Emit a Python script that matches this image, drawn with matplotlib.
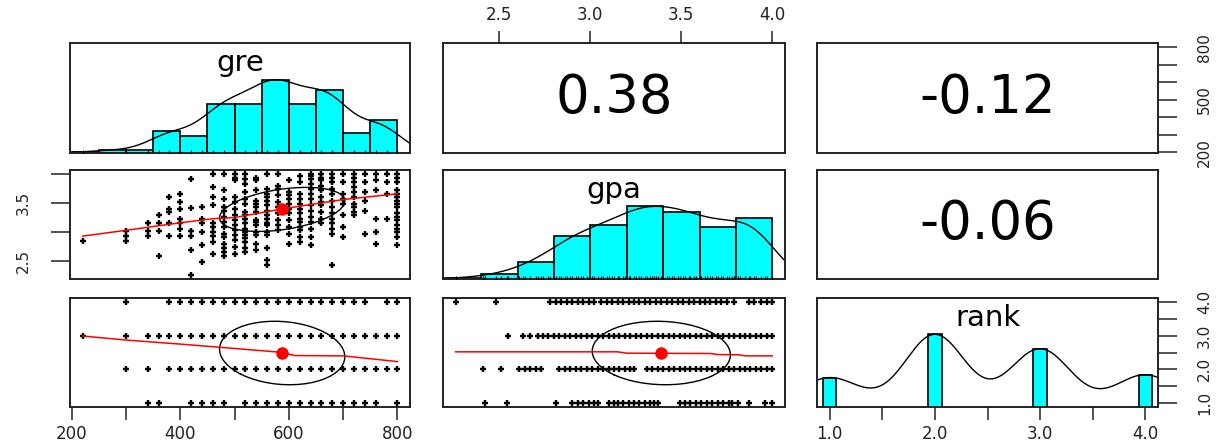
import numpy as np
import matplotlib
matplotlib.use('Agg')
import matplotlib.pyplot as plt

plt.rcParams['font.family'] = ['DejaVu Sans']

# histogram data
gre_breaks = [200, 250, 300, 350, 400, 450, 500, 550, 600, 650, 700, 750, 800]
gre_counts = [1, 3, 3, 23, 18, 51, 51, 77, 51, 66, 21, 35]
gpa_breaks = [2.2, 2.4, 2.6, 2.8, 3.0, 3.2, 3.4, 3.6, 3.8, 4.0]
gpa_counts = [1, 5, 18, 46, 58, 78, 72, 56, 66]
rank_levels = [1, 2, 3, 4]
rank_counts = [61, 151, 121, 67]

# summary statistics
gre_mean, gre_sd, gre_range = 587.7, 115.5, (220, 800)
gpa_mean, gpa_sd, gpa_range = 3.39, 0.38, (2.26, 4.0)
rank_mean, rank_sd, rank_range = 2.485, 0.944, (1, 4)
r_gre_gpa, r_gre_rank, r_gpa_rank = 0.38, -0.12, -0.06
cor_labels = ['0.38', '-0.12', '-0.06']

# smoothed (loess) lines
smooth1_x = [220, 300, 400, 460, 500, 588, 700, 800]
smooth1_y = [2.93, 3.03, 3.16, 3.23, 3.25, 3.40, 3.56, 3.66]
smooth2_x = [220, 300, 400, 500, 590, 610, 700, 800]
smooth2_y = [2.99, 2.87, 2.75, 2.62, 2.50, 2.41, 2.40, 2.23]
smooth3_x = [2.26, 3.15, 3.20, 3.66, 3.70, 3.82, 3.85, 4.00]
smooth3_y = [2.52, 2.52, 2.48, 2.47, 2.44, 2.43, 2.40, 2.40]

# gre vs gpa scatter points
gre_gpa_pts = [
    (220, 2.84),
    (300, 3.01), (300, 2.93), (300, 2.84),
    (340, 3.15), (340, 3.01), (340, 2.93),
    (360, 3.29), (360, 3.15), (360, 3.01), (360, 2.58),
    (380, 3.60), (380, 3.40), (380, 3.34), (380, 3.15), (380, 2.93),
    (400, 3.66), (400, 3.52), (400, 3.40), (400, 3.23), (400, 3.15), (400, 3.06), (400, 2.93),
    (420, 3.91), (420, 3.41), (420, 3.01), (420, 2.93), (420, 2.69), (420, 2.26),
    (440, 3.43), (440, 3.23), (440, 3.15), (440, 3.00), (440, 2.77), (440, 2.49),
    (460, 4.00), (460, 3.77), (460, 3.60), (460, 3.46), (460, 3.15), (460, 3.09), (460, 3.00),
    (460, 2.93), (460, 2.83), (460, 2.63),
    (480, 4.00), (480, 3.72), (480, 3.57), (480, 3.43), (480, 3.37), (480, 3.26), (480, 3.17),
    (480, 3.09), (480, 2.97), (480, 2.92), (480, 2.80), (480, 2.72), (480, 2.66), (480, 2.58),
    (500, 4.00), (500, 3.94), (500, 3.89), (500, 3.60), (500, 3.52), (500, 3.40), (500, 3.29),
    (500, 3.20), (500, 3.12), (500, 3.03), (500, 2.95), (500, 2.86), (500, 2.75), (500, 2.63),
    (520, 4.00), (520, 3.91), (520, 3.83), (520, 3.69), (520, 3.57), (520, 3.49), (520, 3.34),
    (520, 3.29), (520, 3.23), (520, 3.15), (520, 3.06), (520, 3.00), (520, 2.95), (520, 2.89),
    (520, 2.83), (520, 2.72), (520, 2.66),
    (540, 3.94), (540, 3.89), (540, 3.72), (540, 3.54), (540, 3.49), (540, 3.43), (540, 3.34),
    (540, 3.20), (540, 3.17), (540, 3.12), (540, 3.00), (540, 2.95), (540, 2.80), (540, 2.69),
    (560, 4.00), (560, 3.74), (560, 3.66), (560, 3.60), (560, 3.54), (560, 3.46), (560, 3.37),
    (560, 3.29), (560, 3.23), (560, 3.15), (560, 3.12), (560, 3.00), (560, 2.95), (560, 2.72),
    (560, 2.52), (560, 2.43),
    (580, 4.00), (580, 3.80), (580, 3.74), (580, 3.63), (580, 3.52), (580, 3.43), (580, 3.32),
    (580, 3.20), (580, 3.12), (580, 3.03),
    (600, 3.89), (600, 3.69), (600, 3.63), (600, 3.57), (600, 3.49), (600, 3.40), (600, 3.32),
    (600, 3.20), (600, 3.09), (600, 2.97), (600, 2.80),
    (620, 3.97), (620, 3.86), (620, 3.66), (620, 3.57), (620, 3.49), (620, 3.40), (620, 3.32),
    (620, 3.23), (620, 3.17), (620, 3.09), (620, 3.03), (620, 2.92), (620, 2.83),
    (640, 4.00), (640, 3.97), (640, 3.91), (640, 3.83), (640, 3.74), (640, 3.66), (640, 3.57),
    (640, 3.46), (640, 3.37), (640, 3.26), (640, 3.17), (640, 3.06), (640, 2.92), (640, 2.77),
    (660, 4.00), (660, 3.94), (660, 3.89), (660, 3.80), (660, 3.72), (660, 3.60), (660, 3.52),
    (660, 3.46), (660, 3.34), (660, 3.23), (660, 3.15),
    (680, 4.00), (680, 3.94), (680, 3.86), (680, 3.74), (680, 3.66), (680, 3.54), (680, 3.43),
    (680, 3.32), (680, 3.23), (680, 3.15), (680, 3.06), (680, 2.97), (680, 2.43),
    (700, 4.00), (700, 3.86), (700, 3.66), (700, 3.57), (700, 3.49), (700, 3.29), (700, 3.09),
    (700, 2.92),
    (720, 4.00), (720, 3.94), (720, 3.86), (720, 3.77), (720, 3.69), (720, 3.60), (720, 3.49),
    (720, 3.43), (720, 3.34), (720, 3.29),
    (740, 4.00), (740, 3.86), (740, 3.69), (740, 3.54), (740, 3.37), (740, 2.97),
    (760, 4.00), (760, 3.89), (760, 3.72), (760, 3.23), (760, 3.00), (760, 2.80),
    (780, 4.00), (780, 3.86), (780, 3.66), (780, 3.23),
    (800, 4.00), (800, 3.94), (800, 3.86), (800, 3.72), (800, 3.66), (800, 3.60), (800, 3.54),
    (800, 3.49), (800, 3.43), (800, 3.32), (800, 3.26), (800, 3.20), (800, 3.12), (800, 3.06),
    (800, 3.00), (800, 2.92), (800, 2.77),
]

# gre values seen in each rank row
gre_rank1 = [340, 360, 420, 440, 460, 480, 520, 540, 560, 580, 600, 620, 640, 660, 680,
             700, 720, 740, 760, 800]
gre_rank2 = [300, 340, 380, 400, 420, 440, 460, 480, 500, 520, 540, 560, 580, 600, 620,
             640, 660, 680, 700, 720, 740, 760, 780, 800]
gre_rank3 = [220, 300, 340, 360, 380, 400, 420, 440, 460, 480, 500, 520, 540, 560, 580,
             600, 620, 640, 660, 680, 700, 720, 740, 760, 780, 800]
gre_rank4 = [300, 380, 400, 420, 440, 460, 480, 500, 520, 540, 560, 580, 600, 620, 640,
             660, 680, 700, 720, 740, 780, 800]

# gpa values seen in each rank row
gpa_rank1 = [2.42, 2.54, 2.81, 2.90, 2.93, 2.96, 2.99, 3.02, 3.04, 3.10, 3.13, 3.15, 3.18,
             3.21, 3.24, 3.27, 3.30, 3.33, 3.35, 3.37, 3.49, 3.52, 3.55, 3.58, 3.61, 3.64,
             3.67, 3.70, 3.73, 3.76, 3.78, 3.81, 3.87, 3.96, 4.00]
gpa_rank2 = [2.41, 2.51, 2.61, 2.64, 2.67, 2.70, 2.73, 2.83, 2.86, 2.89, 2.92, 2.95, 2.98,
             3.01, 3.04, 3.07, 3.10, 3.13, 3.16, 3.19, 3.22, 3.24, 3.31, 3.34, 3.37, 3.40,
             3.43, 3.46, 3.49, 3.52, 3.55, 3.58, 3.61, 3.64, 3.67, 3.70, 3.73, 3.76, 3.79,
             3.82, 3.85, 3.88, 3.91, 3.94, 3.97, 4.00]
gpa_rank3 = [2.55, 2.63, 2.67, 2.71, 2.74, 2.77, 2.80, 2.83, 2.86, 2.89, 2.92, 2.95, 2.98,
             3.01, 3.04, 3.07, 3.10, 3.13, 3.16, 3.19, 3.22, 3.25, 3.28, 3.31, 3.34, 3.37,
             3.40, 3.43, 3.46, 3.49, 3.52, 3.55, 3.58, 3.61, 3.64, 3.67, 3.70, 3.73, 3.76,
             3.79, 3.82, 3.85, 3.88, 3.91, 3.94, 3.97, 4.00]
gpa_rank4 = [2.26, 2.48, 2.78, 2.81, 2.84, 2.87, 2.90, 2.93, 2.96, 2.99, 3.02, 3.06, 3.09,
             3.12, 3.15, 3.18, 3.21, 3.24, 3.27, 3.30, 3.33, 3.36, 3.39, 3.42, 3.45, 3.48,
             3.51, 3.54, 3.57, 3.60, 3.63, 3.66, 3.69, 3.72, 3.75, 3.79, 3.87, 3.90, 3.94,
             3.97, 4.00]


def ext(rng):
    d = (rng[1] - rng[0]) * 0.04
    return (rng[0] - d, rng[1] + d)


def ellipse(ax, xm, ym, xs, ys, r, n=51):
    a = np.linspace(0, 2 * np.pi, n + 1)
    th = np.sign(r) / np.sqrt(2)
    s1, s2 = np.sqrt(1 + r), np.sqrt(1 - r)
    ex = np.cos(a) * s1 * th - np.sin(a) * s2 * th
    ey = np.cos(a) * s1 * th + np.sin(a) * s2 * th
    ax.plot(ex * xs + xm, ey * ys + ym, color='black', lw=1.0)


def kde_line(ax, centers, counts, bw, lims):
    grid = np.linspace(lims[0], lims[1], 400)
    c = np.asarray(centers, float)[:, None]
    w = np.asarray(counts, float)[:, None]
    d = (w * np.exp(-0.5 * ((grid - c) / bw) ** 2)).sum(axis=0)
    ax.plot(grid, d / d.max(), color='black', lw=1.0)


def hist_panel(ax, lefts, widths, counts, centers, bw, lims, name, rug):
    h = np.asarray(counts, float) / max(counts)
    ax.bar(lefts, h, width=widths, align='edge', color='#00FFFF',
           edgecolor='black', linewidth=1.2, zorder=2)
    kde_line(ax, centers, counts, bw, lims)
    ax.plot(rug, np.zeros(len(rug)), '|', color='black', ms=5, mew=0.8, zorder=3)
    ax.set_ylim(0, 1.5)
    ax.text(0.5, 0.82, name, transform=ax.transAxes, ha='center', va='center',
            fontsize=21)


def scatter_panel(ax, x, y, sx, sy, mx, my, xs, ys, r):
    ax.plot(x, y, '+', color='black', ms=5, mew=1.7, zorder=2)
    ax.plot(sx, sy, color='red', lw=1.1, zorder=3)
    ellipse(ax, mx, my, xs, ys, r)
    ax.plot([mx], [my], 'o', color='red', ms=8, zorder=4)


W, H = 1222, 443
fig = plt.figure(figsize=(W / 100, H / 100), dpi=100)
cols = [(70, 410), (443, 785), (817, 1158)]
rows = [(43, 153), (170, 279), (298, 407)]
axs = [[None] * 3 for _ in range(3)]
for i, (t, b) in enumerate(rows):
    for j, (l, rgt) in enumerate(cols):
        ax = fig.add_axes([l / W, 1 - b / H, (rgt - l) / W, (b - t) / H])
        for s in ax.spines.values():
            s.set_linewidth(1.4)
            s.set_color('#222222')
        ax.set_xticks([])
        ax.set_yticks([])
        axs[i][j] = ax

lim_gre, lim_gpa, lim_rank = ext(gre_range), ext(gpa_range), ext(rank_range)
lims = [lim_gre, lim_gpa, lim_rank]

# diagonal
gre_w = np.diff(gre_breaks)
gre_c = np.array(gre_breaks[:-1]) + gre_w / 2
gre_rug = sorted(set(p[0] for p in gre_gpa_pts))
hist_panel(axs[0][0], gre_breaks[:-1], gre_w, gre_counts, gre_c, 37.4,
           (gre_range[0] - 120, gre_range[1] + 120), 'gre', gre_rug)
gpa_w = np.diff(gpa_breaks)
gpa_c = np.array(gpa_breaks[:-1]) + gpa_w / 2
gpa_rug = sorted(set(gpa_rank1 + gpa_rank2 + gpa_rank3 + gpa_rank4))
hist_panel(axs[1][1], gpa_breaks[:-1], gpa_w, gpa_counts, gpa_c, 0.134,
           (gpa_range[0] - 0.45, gpa_range[1] + 0.45), 'gpa', gpa_rug)
rank_l = np.array(rank_levels) - 0.065
hist_panel(axs[2][2], rank_l, 0.13, rank_counts, rank_levels, 0.286,
           (0.1, 4.9), 'rank', [])

# lower panels
gx = [p[0] for p in gre_gpa_pts]
gy = [p[1] for p in gre_gpa_pts]
scatter_panel(axs[1][0], gx, gy, smooth1_x, smooth1_y,
              gre_mean, gpa_mean, gre_sd, gpa_sd, r_gre_gpa)

rx = gre_rank1 + gre_rank2 + gre_rank3 + gre_rank4
ry = [1] * len(gre_rank1) + [2] * len(gre_rank2) + [3] * len(gre_rank3) + [4] * len(gre_rank4)
scatter_panel(axs[2][0], rx, ry, smooth2_x, smooth2_y,
              gre_mean, rank_mean, gre_sd, rank_sd, r_gre_rank)

px = gpa_rank1 + gpa_rank2 + gpa_rank3 + gpa_rank4
py = [1] * len(gpa_rank1) + [2] * len(gpa_rank2) + [3] * len(gpa_rank3) + [4] * len(gpa_rank4)
scatter_panel(axs[2][1], px, py, smooth3_x, smooth3_y,
              gpa_mean, rank_mean, gpa_sd, rank_sd, r_gpa_rank)

# upper panels: correlations
for (i, j), lab in zip([(0, 1), (0, 2), (1, 2)], cor_labels):
    axs[i][j].text(0.5, 0.5, lab, transform=axs[i][j].transAxes, ha='center',
                   va='center', fontsize=38)

for i in range(3):
    for j in range(3):
        axs[i][j].set_xlim(lims[j])
        if i != j:
            axs[i][j].set_ylim(lims[i])

# axes ticks
tick_kw = dict(colors='#222222', width=1.1)
ax = axs[2][0]
ax.set_xticks([200, 300, 400, 500, 600, 700, 800])
ax.set_xticklabels(['200', '', '400', '', '600', '', '800'], fontsize=12)
ax.tick_params(axis='x', length=9, pad=4, **tick_kw)

ax = axs[0][1]
ax.xaxis.tick_top()
ax.set_xticks([2.5, 3.0, 3.5, 4.0])
ax.set_xticklabels(['2.5', '3.0', '3.5', '4.0'], fontsize=12)
ax.tick_params(axis='x', length=9, pad=5, **tick_kw)

ax = axs[2][2]
ax.set_xticks([1.0, 1.5, 2.0, 2.5, 3.0, 3.5, 4.0])
ax.set_xticklabels(['1.0', '', '2.0', '', '3.0', '', '4.0'], fontsize=12)
ax.tick_params(axis='x', length=9, pad=4, **tick_kw)
# right-hand rank scale drawn on a twin axis so the histogram keeps its own scale
rax = ax.twinx()
rax.set_ylim(lim_rank)
for s in rax.spines.values():
    s.set_visible(False)
rax.set_yticks([1.0, 1.5, 2.0, 2.5, 3.0, 3.5, 4.0])
rax.set_yticklabels(['1.0', '', '2.0', '', '3.0', '', '4.0'], fontsize=11,
                    rotation=90, va='center')
rax.tick_params(axis='y', length=14, pad=14, **tick_kw)

ax = axs[0][2]
ax.yaxis.tick_right()
ax.set_yticks([200, 300, 400, 500, 600, 700, 800])
ax.set_yticklabels(['200', '', '', '500', '', '', '800'], fontsize=11,
                   rotation=90, va='center')
ax.tick_params(axis='y', length=14, pad=14, **tick_kw)

ax = axs[1][0]
ax.set_yticks([2.5, 3.0, 3.5, 4.0])
ax.set_yticklabels(['2.5', '', '3.5', ''], fontsize=11, rotation=90, va='center')
ax.tick_params(axis='y', length=14, pad=14, **tick_kw)

fig.savefig('out.png', dpi=100)
